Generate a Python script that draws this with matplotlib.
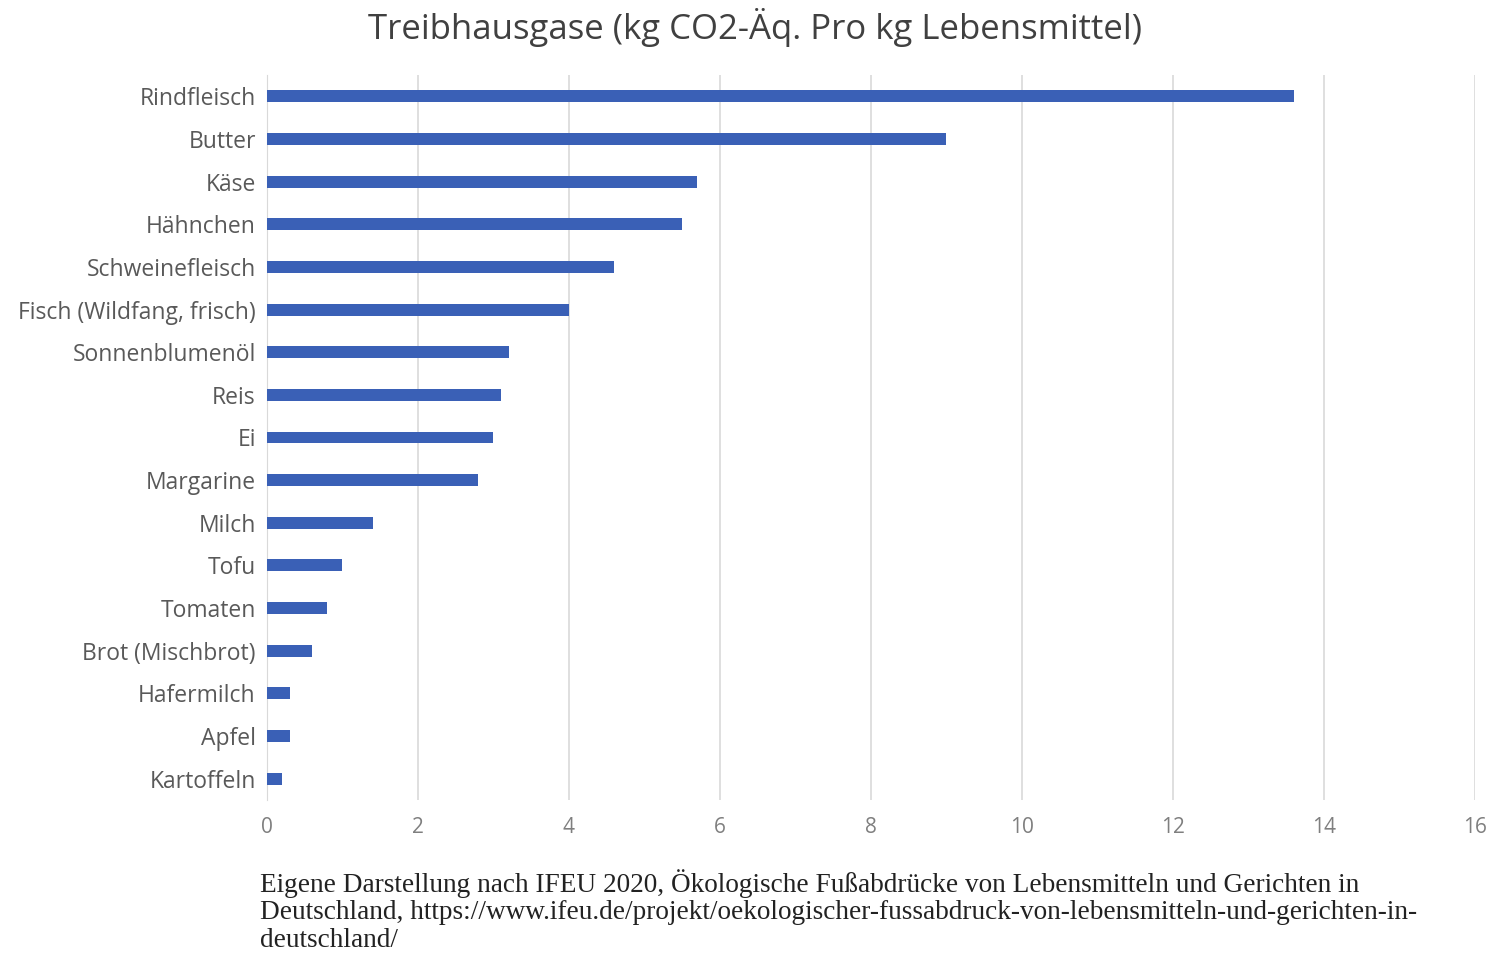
import matplotlib.pyplot as plt

# --- Data ---
foods = [
    'Rindfleisch', 'Butter', 'Käse', 'Hähnchen', 'Schweinefleisch',
    'Fisch (Wildfang, frisch)', 'Sonnenblumenöl', 'Reis', 'Ei', 'Margarine',
    'Milch', 'Tofu', 'Tomaten', 'Brot (Mischbrot)', 'Hafermilch', 'Apfel',
    'Kartoffeln',
]
co2_per_kg = [13.6, 9.0, 5.7, 5.5, 4.6, 4.0, 3.2, 3.1, 3.0, 2.8,
              1.4, 1.0, 0.8, 0.6, 0.3, 0.3, 0.2]
x_ticks = [0, 2, 4, 6, 8, 10, 12, 14, 16]

TITLE = 'Treibhausgase (kg CO2-Äq. Pro kg Lebensmittel)'
SOURCE = ('Eigene Darstellung nach IFEU 2020, Ökologische Fußabdrücke von Lebensmitteln und Gerichten in\n'
          'Deutschland, https://www.ifeu.de/projekt/oekologischer-fussabdruck-von-lebensmitteln-und-gerichten-in-\n'
          'deutschland/')


def main():
    plt.rcParams['font.family'] = ['Open Sans', 'DejaVu Sans']

    fig = plt.figure(figsize=(15.1, 9.55), dpi=100)
    ax = fig.add_axes([0.1768, 0.1623, 0.80, 0.7592])

    pos = list(range(len(foods)))
    ax.barh(pos, co2_per_kg, height=0.28, color='#3a60b6', zorder=3)

    ax.set_ylim(len(foods) - 0.5, -0.5)
    ax.set_yticks(pos)
    ax.set_yticklabels(foods, fontsize=16.5, color='#595959')
    ax.set_xlim(0, 16)
    ax.set_xticks(x_ticks)
    ax.set_xticklabels([str(t) for t in x_ticks], fontsize=15, color='#7f7f7f')
    ax.tick_params(axis='both', length=0, pad=8)
    ax.tick_params(axis='x', pad=12)

    # light vertical grid, no frame except the category axis
    ax.grid(axis='x', color='#d9d9d9', linewidth=1.2, zorder=0)
    for side in ['top', 'right', 'bottom']:
        ax.spines[side].set_visible(False)
    ax.spines['left'].set_color('#d9d9d9')

    fig.text(0.5, 0.971, TITLE, ha='center', va='center',
             fontsize=25, color='#404040')

    fig.text(0.172, 0.046, SOURCE, ha='left', va='center',
             fontsize=19.6, family='Liberation Serif', color='#222222',
             linespacing=1.12)

    fig.savefig('out.png', dpi=100, facecolor='white')


if __name__ == "__main__":
    main()
